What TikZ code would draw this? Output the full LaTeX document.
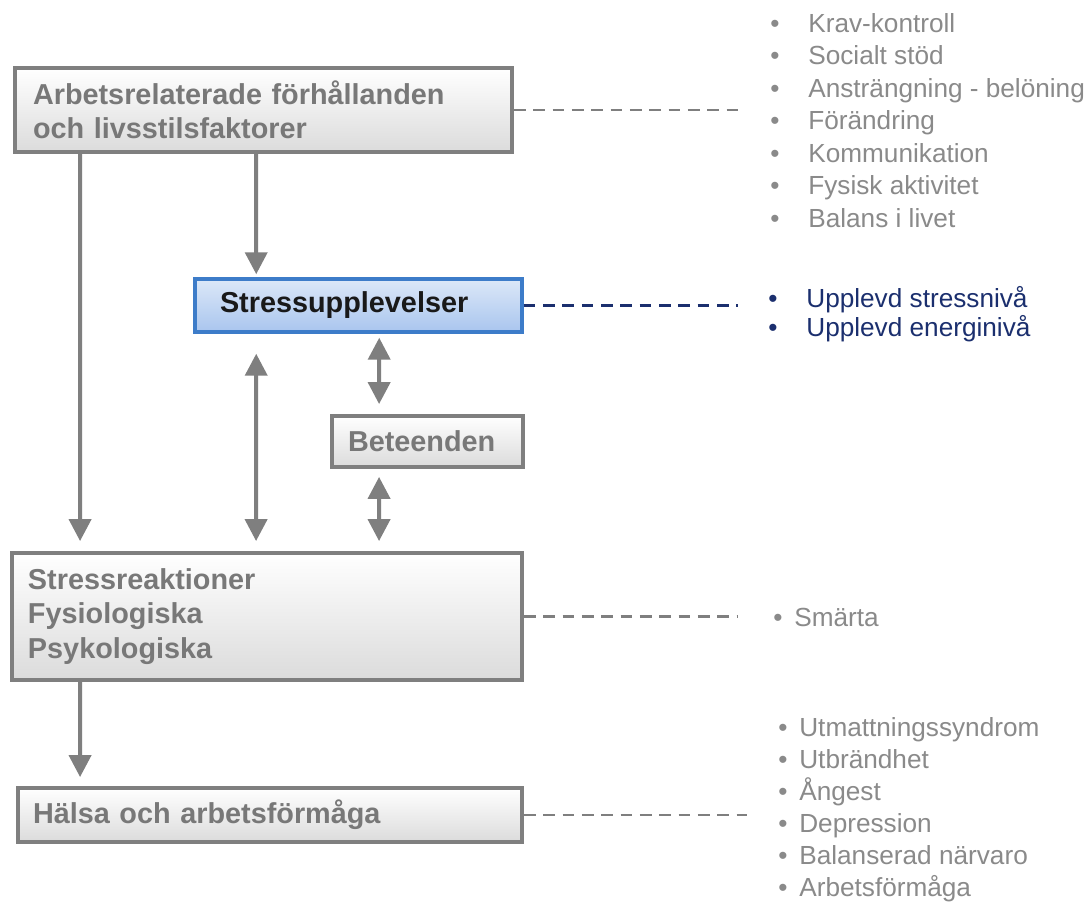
\documentclass[tikz,border=0pt]{standalone}
\usepackage{fontspec}
\setmainfont{Liberation Sans}
\usepackage{tikz}
\usetikzlibrary{arrows.meta}
\definecolor{RamGra}{HTML}{7F7F7F}
\definecolor{TextGra}{HTML}{787878}
\definecolor{ListGra}{HTML}{8A8A8A}
\definecolor{RamBla}{HTML}{3D7CC9}
\definecolor{LjusBla}{HTML}{DCE8F8}
\definecolor{MorkBla}{HTML}{A9C5EE}
\definecolor{Marin}{HTML}{1B2F6E}
\newcommand{\punkt}{\makebox[0.76cm][l]{•}}
\newcommand{\kortpunkt}{\makebox[0.42cm][l]{•}}

\begin{document}
\begin{tikzpicture}[x=1cm,y=1cm,
  ruta/.style={draw=RamGra,line width=2.2pt,top color=white,bottom color=black!14,
    text=TextGra,font=\fontsize{16.4}{19.6}\selectfont\bfseries,align=left,inner ysep=0pt},
  blaruta/.style={ruta,draw=RamBla,line width=2pt,top color=LjusBla,bottom color=MorkBla,text=black!90},
  pil/.style={draw=RamGra,line width=2.3pt,-{Triangle[width=12.5pt,length=12.5pt]}},
  dubbelpil/.style={pil,{Triangle[width=12.5pt,length=12.5pt]}-{Triangle[width=12.5pt,length=12.5pt]}},
  streck/.style={draw=RamGra,line width=1.2pt,dash pattern=on 6.6pt off 4.4pt},
  liste/.style={anchor=north west,inner sep=0pt,align=left,text=ListGra,
    font=\fontsize{14.9}{18.5}\selectfont}]
\path[use as bounding box] (0,0) rectangle (21.84,18.06);
\fill[white] (0,0) rectangle (21.84,18.06);

% boxes
\node[ruta,text width=9.22cm,inner xsep=0.36cm,minimum height=1.68cm] (arbete) at (5.27,15.86)
  {Arbetsrelaterade förhållanden\\och livsstilsfaktorer};
\node[blaruta,text width=5.54cm,inner xsep=0.5cm,minimum height=1.06cm] (stress) at (7.17,11.95)
  {Stressupplevelser};
\node[ruta,text width=3.18cm,inner xsep=0.32cm,minimum height=1.02cm] (beteende) at (8.55,9.23)
  {Beteenden};
\node[ruta,text width=9.56cm,inner xsep=0.32cm,minimum height=2.54cm] (reaktion) at (5.34,5.73)
  {Stressreaktioner\\Fysiologiska\\Psykologiska};
\node[ruta,text width=9.48cm,inner xsep=0.30cm,minimum height=1.08cm] (halsa) at (5.40,1.76)
  {Hälsa och arbetsförmåga};

% arrows
\draw[pil,shorten >=0.2cm] ([xshift=1.34cm]arbete.south west) -- ([xshift=1.40cm]reaktion.north west);
\draw[pil,shorten >=0.06cm] ([xshift=4.86cm]arbete.south west) -- ([xshift=1.26cm]stress.north west);
\draw[dubbelpil,shorten <=0.2cm,shorten >=0.4cm] ([xshift=4.92cm]reaktion.north west) -- ([xshift=1.26cm]stress.south west);
\draw[dubbelpil,shorten <=0.08cm,shorten >=0.2cm] ([xshift=3.72cm]stress.south west) -- ([xshift=0.98cm]beteende.north west);
\draw[dubbelpil,shorten <=0.16cm,shorten >=0.2cm] ([xshift=0.98cm]beteende.south west) -- ([xshift=7.38cm]reaktion.north west);
\draw[pil,shorten >=0.18cm] ([xshift=1.40cm]reaktion.south west) -- ([xshift=1.28cm]halsa.north west);

% dashed links to the lists
\coordinate (faktorslut) at (14.84,15.86);
\coordinate (stresslut) at (14.76,11.95);
\coordinate (reaktionslut) at (14.76,5.73);
\coordinate (halsaslut) at (14.94,1.76);
\draw[streck] (arbete) -- (faktorslut);
\draw[streck,draw=Marin] (stress) -- (stresslut);
\draw[streck] (reaktion) -- (reaktionslut);
\draw[streck] (halsa) -- (halsaslut);

% lists
\node[liste] (faktorer) at (15.40,17.80)
  {\punkt Krav-kontroll\\\punkt Socialt stöd\\\punkt Ansträngning - belöning\\\punkt Förändring\\
   \punkt Kommunikation\\\punkt Fysisk aktivitet\\\punkt Balans i livet};
\node[liste,text=Marin,font=\fontsize{14.9}{16.8}\selectfont] (upplevt) at (15.36,12.34)
  {\punkt Upplevd stressnivå\\\punkt Upplevd energinivå};
\node[liste] (smarta) at (15.46,5.90) {\kortpunkt Smärta};
\node[liste,font=\fontsize{14.9}{18.2}\selectfont] (halsolista) at (15.56,3.72)
  {\kortpunkt Utmattningssyndrom\\\kortpunkt Utbrändhet\\\kortpunkt Ångest\\\kortpunkt Depression\\
   \kortpunkt Balanserad närvaro\\\kortpunkt Arbetsförmåga};
\end{tikzpicture}
\end{document}
